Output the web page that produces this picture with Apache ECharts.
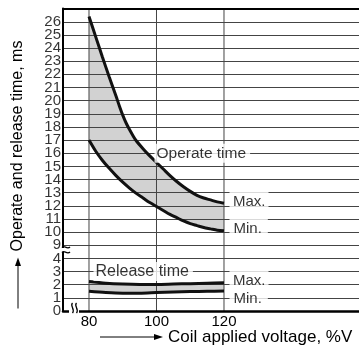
<!DOCTYPE html>
<html><head><meta charset="utf-8">
<script src="https://cdn.jsdelivr.net/npm/echarts@6/dist/echarts.min.js"></script>
<style>html,body{margin:0;padding:0;background:#fff}#c{width:359px;height:354px}</style>
</head><body><div id="c"></div>
<script>
// ---- data ----
const voltageTicks = [80, 100, 120];
const timeTicksUpper = [9, 10, 11, 12, 13, 14, 15, 16, 17, 18, 19, 20, 21, 22, 23, 24, 25, 26];
const timeTicksLower = [0, 1, 2, 3, 4];
const operateMax = [[80,26.4],[82,24.85],[84,23.3],[86,21.8],[88,20.35],[89,19.6],[90,18.9],[91,18.3],[92,17.8],[93,17.35],[94,16.95],[96,16.35],[98,15.8],[100,15.3],[102,14.8],[104,14.3],[106,13.85],[108,13.45],[110,13.1],[112,12.8],[114,12.6],[116,12.45],[118,12.3],[120,12.2]];
const operateMin = [[80,17.0],[82,16.15],[84,15.45],[86,14.85],[88,14.3],[90,13.8],[92,13.35],[94,12.95],[96,12.6],[98,12.25],[100,11.95],[102,11.65],[104,11.35],[106,11.1],[108,10.85],[110,10.65],[112,10.5],[114,10.35],[116,10.25],[118,10.15],[120,10.1]];
const releaseMax = [[80,2.25],[85,2.12],[90,2.05],[95,2.02],[100,2.02],[105,2.05],[110,2.08],[115,2.12],[120,2.15]];
const releaseMin = [[80,1.5],[85,1.4],[90,1.35],[95,1.35],[100,1.4],[105,1.45],[110,1.48],[115,1.5],[120,1.52]];
const xName = 'Coil applied voltage, %V';
const yName = 'Operate and release time, ms';

// ---- chart ----
const FONT = '"Liberation Sans", Arial, Helvetica, sans-serif';
const X_MIN = 72.3, X_MAX = 160;
const TOP_MIN = 9, TOP_MAX = 27, BOT_MIN = 0, BOT_MAX = 5;
const chart = echarts.init(document.getElementById('c'), null, {renderer: 'canvas'});

function band(upper, lower, gi) {
  return {
    type: 'custom', xAxisIndex: gi, yAxisIndex: gi, z: 1, silent: true, clip: true,
    data: [upper[0]], encode: {x: 0, y: 1},
    renderItem(params, api) {
      const pts = upper.map(p => api.coord(p)).concat(lower.slice().reverse().map(p => api.coord(p)));
      return {type: 'polygon', shape: {points: pts, smooth: 0}, style: {fill: '#d2d2d2'}};
    }
  };
}
function vLines(gi, y0, y1) {
  return {
    type: 'custom', xAxisIndex: gi, yAxisIndex: gi, z: 2, silent: true, clip: false,
    data: voltageTicks.map(v => [v, y0]), encode: {x: 0, y: 1},
    renderItem(params, api) {
      const x = api.value(0);
      const a = api.coord([x, y0]), b = api.coord([x, y1]);
      return {type: 'line', shape: {x1: a[0], y1: a[1], x2: b[0], y2: b[1]}, style: {stroke: '#444', lineWidth: 1}};
    }
  };
}
function curve(data, gi) {
  return {type: 'line', xAxisIndex: gi, yAxisIndex: gi, z: 3, silent: true, data: data,
    showSymbol: false, smooth: 0.3, lineStyle: {color: '#111', width: 3}};
}
// y tick labels, placed by the axis scale at the left edge of each grid
function tickLabels(gi, ticks) {
  return {type: 'scatter', xAxisIndex: gi, yAxisIndex: gi, z: 6, silent: true, symbolSize: 1, clip: false,
    itemStyle: {color: 'transparent'},
    data: ticks.map(v => [X_MIN, v]),
    label: {show: true, position: 'left', distance: 1.5, formatter: p => String(p.value[1]),
      fontSize: 15, color: '#000', fontFamily: FONT},
    labelLayout: {hideOverlap: false}};
}
const baseLabel = {show: true, position: 'right', distance: 0, formatter: '{b}', color: '#000',
  fontFamily: FONT, backgroundColor: '#fff'};

function yAxisOf(gi, min, max) {
  return {
    gridIndex: gi, type: 'value', min: min, max: max, interval: 1,
    axisLine: {show: true, onZero: false, lineStyle: {color: '#000', width: 2}},
    axisTick: {show: false},
    axisLabel: {show: false},
    splitLine: {show: true, lineStyle: {color: '#444', width: 1}},
    z: 2
  };
}
function squiggle(x1, y1, x2, y2, c1x, c1y, c2x, c2y) {
  return {type: 'bezierCurve', z: 101, shape: {x1: x1, y1: y1, x2: x2, y2: y2, cpx1: c1x, cpy1: c1y, cpx2: c2x, cpy2: c2y},
    style: {fill: null, stroke: '#000', lineWidth: 1.3}};
}

const option = {
  animation: false,
  backgroundColor: '#fff',
  grid: [
    {left: 63, right: 0, top: 8.6, height: 236.7},
    {left: 63, right: 0, top: 245.3, height: 65.7}
  ],
  xAxis: [
    {gridIndex: 0, type: 'value', min: X_MIN, max: X_MAX, position: 'top',
      axisLine: {show: true, onZero: false, lineStyle: {color: '#000', width: 2}},
      axisTick: {show: false}, axisLabel: {show: false}, splitLine: {show: false}, z: 2},
    {gridIndex: 1, type: 'value', min: X_MIN, max: X_MAX, position: 'bottom',
      axisLine: {show: true, onZero: false, lineStyle: {color: '#000', width: 2.5}},
      axisTick: {show: false},
      axisLabel: {customValues: voltageTicks, margin: 3, fontSize: 15, color: '#000', fontFamily: FONT},
      splitLine: {show: false}, z: 2}
  ],
  yAxis: [
    yAxisOf(0, TOP_MIN, TOP_MAX),
    yAxisOf(1, BOT_MIN, BOT_MAX)
  ],
  series: [
    band(operateMax, operateMin, 0),
    band(releaseMax, releaseMin, 1),
    vLines(0, TOP_MIN, TOP_MAX),
    vLines(1, BOT_MIN, BOT_MAX),
    curve(operateMax, 0), curve(operateMin, 0),
    curve(releaseMax, 1), curve(releaseMin, 1),
    tickLabels(0, timeTicksUpper),
    tickLabels(1, timeTicksLower),
    {type: 'scatter', xAxisIndex: 0, yAxisIndex: 0, z: 5, silent: true, symbolSize: 1,
      itemStyle: {color: 'transparent'}, label: baseLabel,
      data: [
        {name: 'Operate time', value: [99.26, 16], label: {fontSize: 15.5, lineHeight: 15, padding: [2, 4, 2, 2]}},
        {name: 'Max.', value: [121.48, 12], label: {fontSize: 15, lineHeight: 16, padding: [11, 3, 3, 3.5], offset: [0, -4]}},
        {name: 'Min.', value: [121.48, 10], label: {fontSize: 15, lineHeight: 16, padding: [9, 6, 3, 4], offset: [0, -3]}}
      ]},
    {type: 'scatter', xAxisIndex: 1, yAxisIndex: 1, z: 5, silent: true, symbolSize: 1,
      itemStyle: {color: 'transparent'}, label: baseLabel,
      data: [
        {name: 'Release time', value: [81.19, 3], label: {fontSize: 16, lineHeight: 15, padding: [2, 4, 2, 2]}},
        {name: 'Max.', value: [121.48, 2.0], label: {fontSize: 15, lineHeight: 16, padding: [9, 3, 1, 3.5], offset: [0, -4]}},
        {name: 'Min.', value: [121.48, 0.9], label: {fontSize: 15, lineHeight: 14, padding: [1, 6, 1, 4]}}
      ]}
  ],
  graphic: [
    {type: 'text', x: 17.5, y: 146, rotation: Math.PI / 2, z: 100,
      style: {text: yName, font: '16px ' + FONT, fill: '#000', textAlign: 'center', textVerticalAlign: 'middle'}},
    {type: 'line', z: 100, shape: {x1: 18, y1: 308.5, x2: 18, y2: 264}, style: {stroke: '#000', lineWidth: 1}},
    {type: 'polygon', z: 100, shape: {points: [[18, 257.5], [15, 266], [21, 266]]}, style: {fill: '#000'}},
    {type: 'line', z: 100, shape: {x1: 100, y1: 337, x2: 155, y2: 337}, style: {stroke: '#000', lineWidth: 1}},
    {type: 'polygon', z: 100, shape: {points: [[163, 337], [154, 334], [154, 340]]}, style: {fill: '#000'}},
    {type: 'text', x: 168, y: 337.5, z: 100,
      style: {text: xName, font: '17px ' + FONT, fill: '#000', textAlign: 'left', textVerticalAlign: 'middle'}},
    {type: 'rect', z: 100, shape: {x: 61.5, y: 248, width: 3, height: 4}, style: {fill: '#fff'}},
    squiggle(62, 247.5, 70, 247, 64, 244.5, 67, 250),
    squiggle(62, 252.5, 70, 252, 64, 249.5, 67, 255),
    {type: 'rect', z: 100, shape: {x: 69, y: 308, width: 10, height: 6}, style: {fill: '#fff'}},
    squiggle(72.5, 303, 72.5, 313, 69.5, 306, 75.5, 309),
    squiggle(76.5, 303, 76.5, 313, 73.5, 306, 79.5, 309)
  ]
};
chart.setOption(option);
</script>
</body></html>
